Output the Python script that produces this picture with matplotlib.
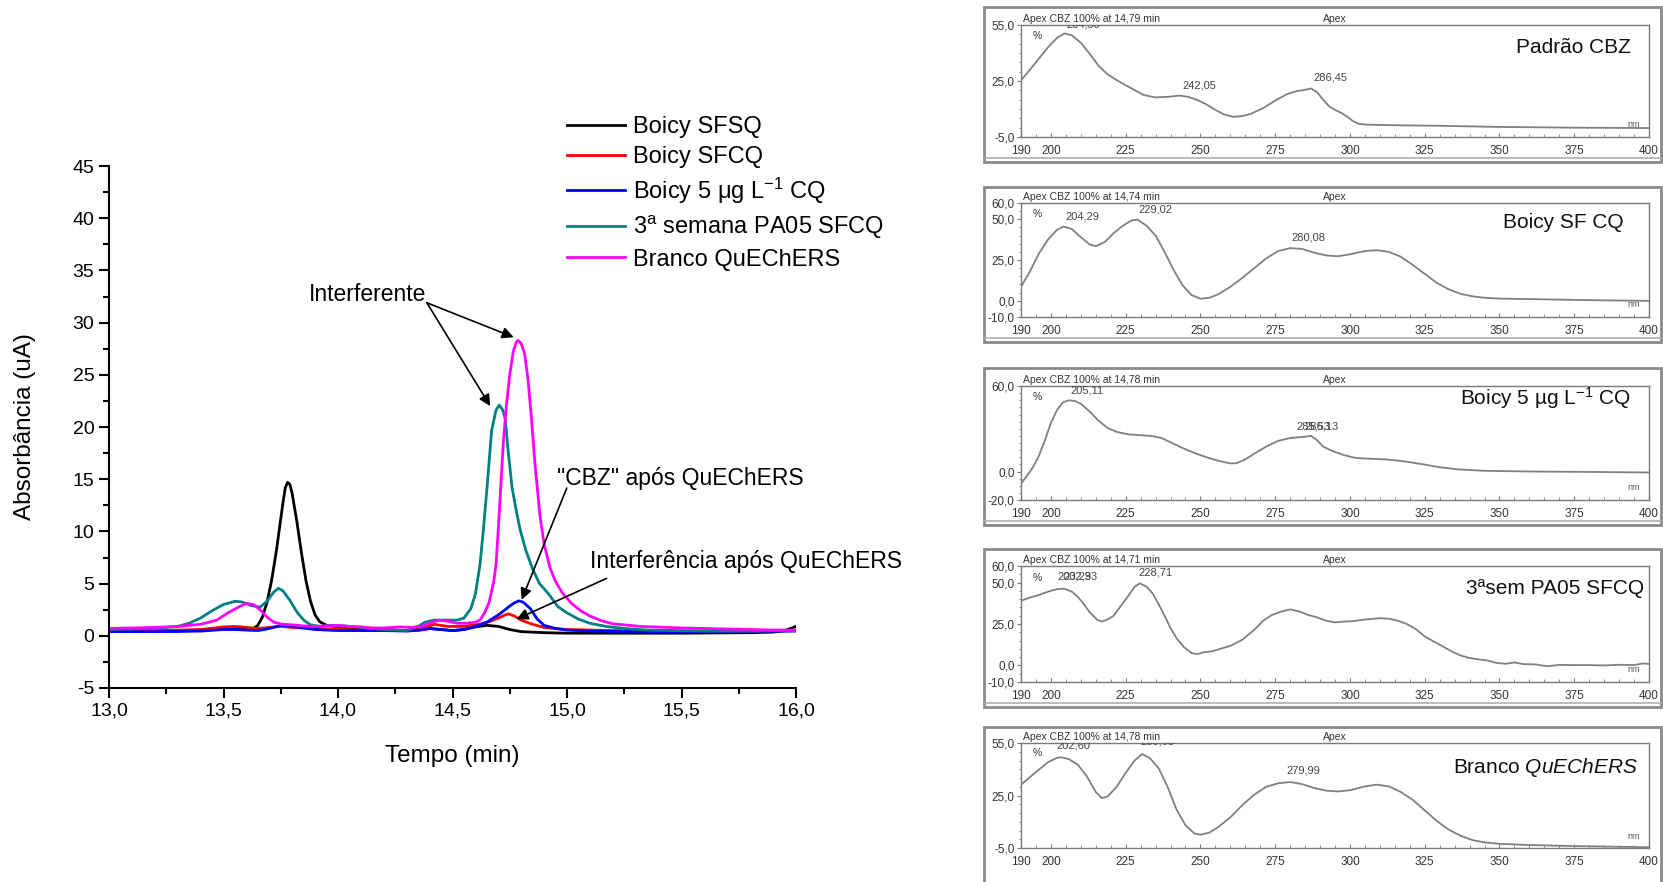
import numpy as np
import matplotlib
matplotlib.use("Agg")
import matplotlib.pyplot as plt
from matplotlib.patches import Rectangle
from matplotlib.lines import Line2D
from matplotlib.ticker import MultipleLocator, FuncFormatter, FixedLocator

plt.rcParams['font.family'] = ['Liberation Sans', 'DejaVu Sans']
plt.rcParams['mathtext.fontset'] = 'custom'
plt.rcParams['mathtext.rm'] = 'Liberation Sans'
plt.rcParams['mathtext.it'] = 'Liberation Sans:italic'
plt.rcParams['mathtext.bf'] = 'Liberation Sans:bold'

# ---------------- main chromatogram data ----------------
series_labels = ["Boicy SFSQ", "Boicy SFCQ", r"Boicy 5 μg L$^{\mathregular{-1}}$ CQ",
                 r"3$^{\mathregular{a}}$ semana PA05 SFCQ", "Branco QuEChERS"]
series_colors = ["#000000", "#ff0000", "#0000ff", "#008080", "#ff00ff"]

t_sfsq = [13.00, 13.10, 13.20, 13.30, 13.40, 13.50, 13.55, 13.60, 13.63, 13.65, 13.67, 13.69,
          13.71, 13.73, 13.75, 13.76, 13.77, 13.78, 13.79, 13.80, 13.82, 13.84, 13.86, 13.88,
          13.90, 13.92, 13.95, 14.00, 14.05, 14.10, 14.20, 14.30, 14.35, 14.40, 14.45, 14.50,
          14.55, 14.60, 14.65, 14.70, 14.75, 14.80, 14.90, 15.00, 15.20, 15.50, 15.80, 15.90,
          15.95, 16.00]
y_sfsq = [0.50, 0.50, 0.45, 0.45, 0.55, 0.75, 0.80, 0.65, 0.70, 1.00, 1.80, 3.20,
          5.30, 8.00, 11.2, 12.8, 14.2, 14.7, 14.5, 13.6, 11.0, 8.0, 5.3, 3.3,
          2.0, 1.35, 1.00, 0.85, 0.80, 0.75, 0.60, 0.50, 0.55, 0.70, 0.60, 0.50,
          0.60, 0.85, 1.00, 0.90, 0.60, 0.40, 0.30, 0.25, 0.25, 0.25, 0.30, 0.35,
          0.50, 0.90]

t_sfcq = [13.00, 13.20, 13.40, 13.50, 13.55, 13.60, 13.65, 13.70, 13.75, 13.80, 13.90, 14.00,
          14.10, 14.20, 14.30, 14.35, 14.38, 14.42, 14.48, 14.55, 14.62, 14.66, 14.70, 14.73,
          14.745, 14.77, 14.80, 14.85, 14.90, 15.00, 15.20, 15.50, 15.80, 16.00]
y_sfcq = [0.50, 0.50, 0.60, 0.85, 0.90, 0.80, 0.70, 0.80, 0.90, 0.80, 0.70, 0.60,
          0.55, 0.50, 0.50, 0.60, 0.80, 1.10, 0.90, 0.90, 1.10, 1.35, 1.70, 2.00,
          2.10, 1.90, 1.50, 1.10, 0.80, 0.60, 0.50, 0.45, 0.45, 0.50]

t_cq5 = [13.00, 13.20, 13.40, 13.50, 13.55, 13.65, 13.70, 13.75, 13.80, 13.90, 14.00, 14.20,
         14.30, 14.36, 14.40, 14.45, 14.50, 14.55, 14.60, 14.65, 14.70, 14.73, 14.75, 14.77,
         14.79, 14.81, 14.84, 14.87, 14.90, 14.95, 15.00, 15.10, 15.40, 15.70, 16.00]
y_cq5 = [0.40, 0.40, 0.45, 0.60, 0.60, 0.50, 0.70, 1.00, 0.90, 0.60, 0.50, 0.50,
         0.45, 0.55, 0.70, 0.60, 0.50, 0.60, 0.90, 1.30, 2.00, 2.50, 2.85, 3.15,
         3.35, 3.20, 2.60, 1.60, 1.00, 0.70, 0.55, 0.45, 0.40, 0.40, 0.45]

t_pa05 = [13.00, 13.10, 13.20, 13.30, 13.35, 13.40, 13.45, 13.50, 13.55, 13.58, 13.62, 13.66,
          13.69, 13.72, 13.74, 13.76, 13.79, 13.82, 13.85, 13.88, 13.92, 13.96, 14.00, 14.05,
          14.10, 14.20, 14.30, 14.35, 14.38, 14.42, 14.47, 14.52, 14.55, 14.58, 14.60, 14.62,
          14.635, 14.65, 14.671, 14.69, 14.704, 14.72, 14.73, 14.744, 14.76, 14.78, 14.795,
          14.82, 14.85, 14.88, 14.92, 14.96, 15.00, 15.05, 15.10, 15.17, 15.25, 15.35, 15.60,
          15.80, 16.00]
y_pa05 = [0.60, 0.65, 0.70, 0.90, 1.20, 1.70, 2.40, 3.00, 3.30, 3.25, 2.90, 2.75,
          3.30, 4.20, 4.55, 4.30, 3.40, 2.30, 1.50, 1.05, 0.90, 1.00, 1.00, 0.90,
          0.80, 0.60, 0.50, 0.90, 1.30, 1.50, 1.50, 1.50, 1.70, 2.60, 4.00, 6.80,
          10.2, 14.0, 19.7, 21.6, 22.1, 21.6, 20.8, 17.5, 14.2, 11.8, 10.2,
          8.2, 6.4, 5.0, 4.0, 2.8, 2.2, 1.6, 1.2, 0.9, 0.7, 0.55, 0.45,
          0.45, 0.50]

t_branco = [13.00, 13.20, 13.30, 13.40, 13.47, 13.52, 13.57, 13.60, 13.63, 13.66, 13.69, 13.72,
            13.76, 13.80, 13.85, 13.90, 13.95, 14.00, 14.05, 14.10, 14.15, 14.20, 14.27, 14.32,
            14.36, 14.40, 14.44, 14.48, 14.52, 14.56, 14.60, 14.62, 14.64, 14.66, 14.68, 14.69,
            14.70, 14.71, 14.722, 14.735, 14.75, 14.765, 14.778, 14.786, 14.80, 14.815, 14.83,
            14.846, 14.86, 14.882, 14.90, 14.926, 14.95, 14.98, 15.02, 15.06, 15.10, 15.15,
            15.20, 15.32, 15.50, 15.70, 15.90, 16.00]
y_branco = [0.70, 0.80, 0.90, 1.10, 1.50, 2.20, 2.80, 3.10, 3.00, 2.50, 1.80, 1.30,
            1.10, 1.05, 0.95, 0.90, 0.95, 1.00, 0.90, 0.85, 0.75, 0.75, 0.85, 0.80,
            0.90, 1.20, 1.50, 1.40, 1.20, 1.20, 1.30, 1.50, 2.20, 3.20, 5.20, 6.80,
            10.2, 14.0, 18.5, 22.0, 25.0, 27.2, 28.1, 28.3, 28.0, 27.0, 24.5,
            20.5, 16.5, 11.5, 8.8, 6.5, 5.2, 4.1, 3.1, 2.4, 1.9, 1.45,
            1.15, 0.90, 0.75, 0.65, 0.55, 0.55]

# ---------------- UV spectra data (nm, %) ----------------
nm_1 = [190, 193, 196, 199, 202, 204.5, 207, 210, 213, 216, 219, 223, 227, 231, 235, 239, 243,
        246, 249, 252, 255, 258, 261, 264, 267, 271, 275, 279, 282, 285, 287, 289, 291, 293,
        295, 297, 299, 301, 303, 306, 315, 330, 350, 375, 400]
pct_1 = [25.4, 31, 37, 43, 48, 50.5, 49.5, 45.5, 39.5, 33, 28.5, 24.5, 21, 17.5, 16.2, 16.5, 17.2,
         16.5, 14.8, 12.5, 9.5, 7, 5.8, 6.2, 7.5, 10.5, 14.5, 18, 19.5, 20.3, 21, 19, 15, 11.5,
         9.5, 8, 6, 3.5, 2, 1.6, 1.3, 1.0, 0.4, 0.0, -0.2]

nm_2 = [190, 193, 196, 199, 202, 204.3, 207, 210, 213, 215, 218, 221, 224, 227, 229, 232, 235,
        238, 241, 244, 247, 250, 253, 256, 260, 264, 268, 272, 276, 280, 284, 288, 292, 296,
        300, 305, 309, 313, 317, 321, 325, 329, 333, 337, 341, 345, 350, 360, 375, 390, 400]
pct_2 = [8.5, 18, 29, 37.5, 43.5, 45.6, 44, 39, 34.5, 33.5, 36, 41.5, 46, 49.3, 49.8, 46, 40,
         30, 19, 9.5, 3.5, 1.2, 1.8, 4, 8.5, 14, 20, 26, 30.5, 32.3, 31.8, 29.5, 27.8, 27.3,
         28.5, 30.5, 31, 30, 27, 22, 16.5, 11, 7, 4.2, 2.7, 1.8, 1.3, 1.0, 0.5, 0.1, -0.1]

nm_3 = [190, 192, 194, 196, 198, 200, 202, 204, 206, 208, 210, 213, 216, 219, 222, 226, 230,
        234, 237, 240, 244, 248, 252, 256, 260, 262, 265, 268, 272, 276, 280, 284, 287, 289,
        291, 294, 298, 302, 306, 312, 318, 324, 330, 336, 345, 360, 380, 400]
pct_3 = [-8.5, -3, 3, 11, 22, 34, 43, 48.5, 50, 49.5, 47.5, 42, 35.5, 30.5, 27.8, 26, 25.5,
         24.8, 23.5, 20.5, 16.5, 13, 10, 7.5, 5.7, 5.8, 8.5, 12.5, 17.5, 21.5, 23.5, 24.2, 25,
         22, 17.5, 14.5, 11.5, 9.5, 9, 8.5, 7.2, 5.2, 3, 1.5, 0.5, 0, -0.3, -0.7]

nm_4 = [190, 193, 196, 199, 202, 204.5, 207, 209, 211, 213, 215.5, 217, 219, 221, 223, 225.5,
        228, 229.8, 232, 234, 236, 238, 240, 242, 244.5, 247, 249, 251, 254, 257, 260, 264,
        268, 271, 274, 277, 280, 283, 286, 289, 292, 295, 298, 301, 304, 307, 310, 313, 316,
        319, 322, 325, 328, 331, 334, 337, 340, 343, 346, 349, 352, 355, 358, 362, 366, 370,
        375, 380, 385, 390, 395, 398, 400]
pct_4 = [39, 41, 42.5, 44.5, 46, 46.3, 44.5, 41.4, 37, 32, 27.5, 26.5, 27.8, 30, 35, 41,
         47.5, 49.5, 47.5, 43.5, 37, 30, 22.5, 16.5, 11, 7.5, 6.8, 7.9, 8.6, 10.2, 11.8, 15.5,
         21.5, 27, 30.5, 32.5, 33.8, 32.6, 30.5, 29, 27, 26, 26.5, 26.7, 27.5, 28, 28.5, 28.2, 27,
         25, 22, 17.5, 14.5, 11.5, 8.5, 6, 4.5, 3.6, 3, 1.5, 1, 1.8, 0.8, 0.6, -0.5, 0.3,
         0.2, 0.2, 0, 0.4, 0.2, 1.2, 0.9]

nm_5 = [190, 193, 196, 199, 202, 203.5, 206, 209, 212, 215, 217, 219, 222, 225, 228, 230.5,
        233, 236, 239, 242, 245, 248, 250, 253, 256, 260, 264, 268, 272, 276, 280, 284, 288,
        292, 296, 300, 305, 309, 313, 317, 321, 325, 329, 333, 337, 341, 345, 350, 360, 375,
        390, 400]
pct_5 = [31.2, 35.5, 39.8, 44, 46.5, 46.8, 45.8, 42.6, 36, 27, 23.5, 24.5, 30, 38, 45, 48.7,
         46.5, 40.7, 30, 17, 8, 3.3, 2.6, 3.8, 7, 12.5, 19.5, 25.5, 30, 32, 32.7, 31.5, 29.3,
         27.8, 27.3, 28, 30.2, 31.2, 30.2, 27, 22.5, 16.5, 10.5, 5.5, 2, -0.5, -1.8, -2.6, -3.3,
         -3.9, -4.3, -4.6]

spec_titles = ["Padrão CBZ", "Boicy SF CQ", r"Boicy 5 µg L$^{\mathregular{-1}}$ CQ",
               "3ªsem PA05 SFCQ", r"Branco $\mathit{QuEChERS}$"]
spec_rt = ["14,79", "14,74", "14,78", "14,71", "14,78"]
spec_yticks = [[-5, 25, 55], [-10, 0, 25, 50, 60], [-20, 0, 60], [-10, 0, 25, 50, 60], [-5, 25, 55]]
spec_ylim = [(-5, 55), (-10, 60), (-20, 60), (-10, 60), (-5, 55)]
spec_peaks = [
    [("204,50", 211, 52.5), ("242,05", 249.5, 20.0), ("286,45", 293.5, 24.0)],
    [("204,29", 210.5, 48.5), ("229,02", 235.0, 53.0), ("280,08", 286.0, 36.0)],
    [("205,11", 212.0, 53.5), ("285,53", 287.8, 28.0), ("286,13", 290.5, 28.0)],
    [("203,29", 208.0, 50.5), ("202,33", 210.0, 50.5), ("228,71", 235.0, 53.0)],
    [("202,60", 207.5, 50.5), ("230,68", 235.5, 53.0), ("279,99", 284.5, 36.5)],
]
spec_data = [(nm_1, pct_1), (nm_2, pct_2), (nm_3, pct_3), (nm_4, pct_4), (nm_5, pct_5)]

W, H = 1663, 882
fig = plt.figure(figsize=(W / 100, H / 100), dpi=100)


def rect(x0, y0, x1, y1):
    return [x0 / W, 1 - y1 / H, (x1 - x0) / W, (y1 - y0) / H]


# ---------------- main chart ----------------
ax = fig.add_axes(rect(109, 166, 796, 688))
data = [(t_sfsq, y_sfsq), (t_sfcq, y_sfcq), (t_cq5, y_cq5), (t_pa05, y_pa05), (t_branco, y_branco)]
handles = []
for (tt, yy), c, lab in zip(data, series_colors, series_labels):
    ln, = ax.plot(tt, yy, color=c, lw=2.0, label=lab, solid_joinstyle='round')
    handles.append(ln)
ax.set_xlim(13, 16)
ax.set_ylim(-5, 45)
for s in ['top', 'right']:
    ax.spines[s].set_visible(False)
for s in ['left', 'bottom']:
    ax.spines[s].set_linewidth(1.5)
ax.xaxis.set_major_locator(MultipleLocator(0.5))
ax.xaxis.set_minor_locator(MultipleLocator(0.25))
ax.yaxis.set_major_locator(MultipleLocator(5))
ax.yaxis.set_minor_locator(MultipleLocator(2.5))
ax.xaxis.set_major_formatter(FuncFormatter(lambda v, p: f"{v:.1f}".replace('.', ',')))
ax.yaxis.set_major_formatter(FuncFormatter(lambda v, p: f"{v:.0f}"))
ax.tick_params(which='major', direction='out', length=7, width=1.5, labelsize=14)
ax.tick_params(which='minor', direction='out', length=4, width=1.5)
ax.set_xlabel("Tempo (min)", fontsize=17.5, labelpad=18)
ax.set_ylabel("Absorbância (uA)", fontsize=17.5)
ax.yaxis.set_label_coords(-0.106, 0.5)

ax.legend(handles, series_labels, loc='upper left', bbox_to_anchor=(567 / W, 1 - 116 / H),
          bbox_transform=fig.transFigure, frameon=False, fontsize=17, handlelength=2.45,
          handletextpad=0.35, labelspacing=0.33, borderpad=0, borderaxespad=0)

arrow_kw = dict(arrowstyle='-|>', color='black', lw=1.2, mutation_scale=17, shrinkA=0, shrinkB=0)
ax.text(14.385, 32.7, "Interferente", fontsize=16.5, ha='right', va='center')
ax.annotate('', xy=(14.767, 28.6), xytext=(14.388, 31.9), arrowprops=arrow_kw)
ax.annotate('', xy=(14.665, 22.0), xytext=(14.388, 31.9), arrowprops=arrow_kw)
ax.text(14.955, 15.1, '"CBZ" após QuEChERS', fontsize=16.5, ha='left', va='center')
ax.annotate('', xy=(14.802, 3.45), xytext=(14.999, 14.15), arrowprops=arrow_kw)
ax.text(15.10, 7.1, 'Interferência após QuEChERS', fontsize=16.5, ha='left', va='center')
ax.annotate('', xy=(14.78, 1.6), xytext=(15.173, 5.5), arrowprops=arrow_kw)

# ---------------- spectra panels ----------------
frames = [(7, 162), (187, 342), (368, 525), (549, 707), (727, 895)]
axes_y = [(25, 137), (203, 317), (386, 500), (566, 682), (743, 848)]
title_pos = [(0.971, 0.795), (0.960, 0.827), (0.971, 0.895), (0.992, 0.81), (0.982, 0.77)]
gray = '#7a7a7a'
for i in range(5):
    fy0, fy1 = frames[i]
    fig.patches.append(Rectangle((984 / W, 1 - fy1 / H), (1661 - 984) / W, (fy1 - fy0) / H,
                                 transform=fig.transFigure, fill=False, edgecolor='#8a8a8a',
                                 lw=2.0, zorder=0))
    fig.add_artist(Line2D([984 / W, 1661 / W], [1 - (fy1 - 4) / H] * 2, transform=fig.transFigure,
                          color='#b0b0b0', lw=1.2))
    ay0, ay1 = axes_y[i]
    sa = fig.add_axes(rect(1021, ay0, 1649, ay1))
    nm, pct = spec_data[i]
    sa.plot(nm, pct, color='#808080', lw=1.3)
    sa.set_xlim(190, 400)
    sa.set_ylim(*spec_ylim[i])
    for s in sa.spines.values():
        s.set_color(gray)
        s.set_linewidth(1.0)
    sa.xaxis.set_major_locator(FixedLocator([190, 200, 225, 250, 275, 300, 325, 350, 375, 400]))
    sa.xaxis.set_minor_locator(MultipleLocator(5))
    sa.yaxis.set_major_locator(FixedLocator(spec_yticks[i]))
    sa.yaxis.set_minor_locator(MultipleLocator(5))
    sa.yaxis.set_major_formatter(FuncFormatter(lambda v, p: f"{v:.1f}".replace('.', ',')))
    sa.tick_params(axis='x', which='both', direction='in', length=3, color=gray, labelsize=8.5,
                   labelcolor='#333333', pad=6)
    sa.tick_params(axis='x', which='minor', length=2)
    sa.tick_params(axis='y', which='both', direction='out', length=3, color=gray, labelsize=8.5,
                   labelcolor='#333333', pad=1.5)
    sa.tick_params(axis='y', which='minor', length=1.5)
    sa.text(0.003, 1.005, f"Apex CBZ 100% at {spec_rt[i]} min", transform=sa.transAxes,
            fontsize=7.5, color='#333333', ha='left', va='bottom')
    sa.text(0.50, 1.005, "Apex", transform=sa.transAxes, fontsize=7.5, color='#333333',
            ha='center', va='bottom')
    sa.text(0.018, 0.90, "%", transform=sa.transAxes, fontsize=7.5, color='#333333',
            ha='left', va='center')
    sa.text(0.985, 0.11, "nm", transform=sa.transAxes, fontsize=6.5, color='#555555',
            ha='right', va='center')
    for lab, px, py in spec_peaks[i]:
        sa.text(px, py, lab, fontsize=8, color='#444444', ha='center', va='bottom', clip_on=True)
    tx, ty = title_pos[i]
    sa.text(tx, ty, spec_titles[i], transform=sa.transAxes, fontsize=15, color='#111111',
            ha='right', va='center')

fig.savefig("out.png", dpi=100)
